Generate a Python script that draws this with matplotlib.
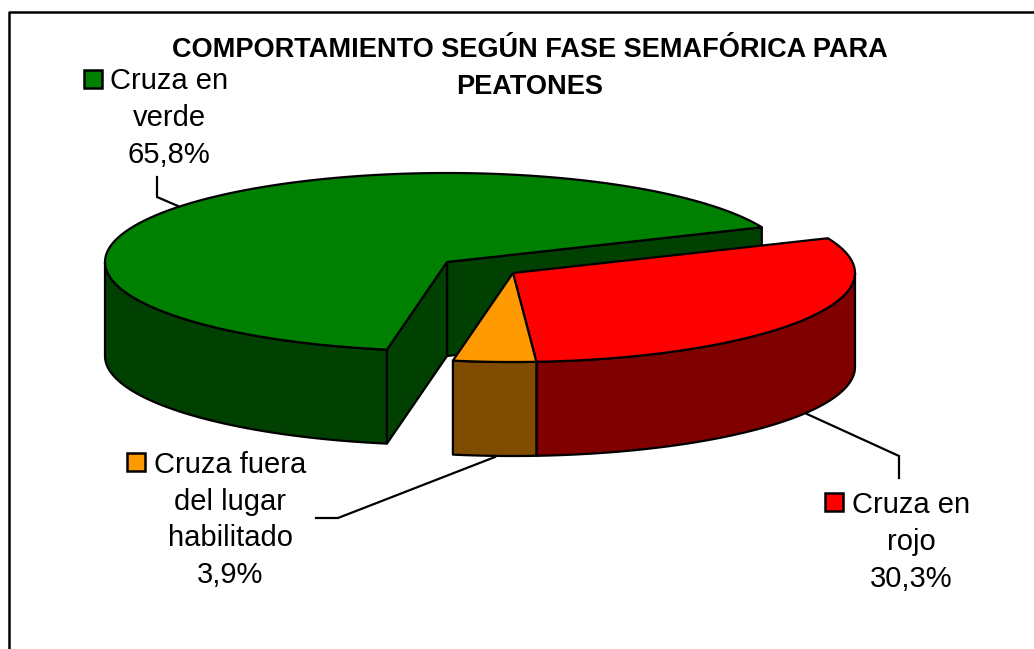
import numpy as np
import matplotlib
matplotlib.use("Agg")
import matplotlib.pyplot as plt
from matplotlib.patches import Polygon, Rectangle

plt.rcParams['font.family'] = ['Liberation Sans', 'DejaVu Sans']

title_lines = ["COMPORTAMIENTO SEGÚN FASE SEMAFÓRICA PARA", "PEATONES"]
labels = ["Cruza en\nverde\n65,8%", "Cruza en\nrojo\n30,3%", "Cruza fuera\ndel lugar\nhabilitado\n3,9%"]
values = [65.8, 30.3, 3.9]
colors = ["#008000", "#FF0000", "#FF9900"]
dark_colors = ["#004000", "#800000", "#804C00"]

# pie geometry in pixels
start_angle = 23.0
rx = 342
ry = 89
depth = 94
centers = [(447, 262), (513, 273), (513, 273)]

fig = plt.figure(figsize=(10.34, 6.49), dpi=100)
ax = fig.add_axes([0, 0, 1, 1])
ax.set_xlim(0, 1034)
ax.set_ylim(649, 0)
ax.axis("off")

lw = 1.6


def rim(c, a, b):
    t = np.radians(np.linspace(a, b, 120))
    return np.column_stack([c[0] + rx * np.cos(t), c[1] - ry * np.sin(t)])


def add_poly(pts, color, z):
    ax.add_patch(Polygon(pts, closed=True, facecolor=color, edgecolor="black",
                         linewidth=lw, joinstyle="round", zorder=z))


# angles: green runs counter clockwise from start, red and orange clockwise
sweeps = [v / sum(values) * 360 for v in values]
spans = [
    (start_angle, start_angle + sweeps[0]),
    (start_angle, start_angle - sweeps[1]),
    (start_angle - sweeps[1], start_angle - sweeps[1] - sweeps[2]),
]

# green
c = centers[0]
a, b = spans[0]
for ang in (a, b):
    p = rim(c, ang, ang)[0]
    add_poly([c, p, (p[0], p[1] + depth), (c[0], c[1] + depth)], dark_colors[0], 2)
arc = rim(c, 180, b)
add_poly(np.vstack([arc, (arc + [0, depth])[::-1]]), dark_colors[0], 2)
add_poly(np.vstack([[c], rim(c, a, b)]), colors[0], 3)

# red and orange, drawn over green
for i in (1, 2):
    c = centers[i]
    a, b = spans[i]
    side_a = max(min(a, 0), b)
    arc = rim(c, side_a, b)
    add_poly(np.vstack([arc, (arc + [0, depth])[::-1]]), dark_colors[i], 4)
    add_poly(np.vstack([[c], rim(c, a, b)]), colors[i], 5)

# title lines as separate texts so the first one stays clear of the green label
for txt, y in zip(title_lines, [50, 87]):
    ax.text(530, y, txt, ha="center", va="center", fontsize=19.5, fontweight="bold", color="black")

label_pos = [(169, 118), (911, 542), (230, 520)]
marker_pos = [(84, 70), (825, 493), (127, 453)]
for txt, pos, mk, col in zip(labels, label_pos, marker_pos, colors):
    ax.text(pos[0], pos[1], txt, ha="center", va="center", fontsize=21, linespacing=1.39, color="black")
    ax.add_patch(Rectangle(mk, 18, 18, facecolor=col, edgecolor="black", linewidth=1.8, zorder=6))

leaders = [
    ([157, 157, 178], [177, 197, 206]),
    ([899, 899, 807], [478, 456, 414]),
    ([316, 338, 495], [518, 518, 457]),
]
for xs, ys in leaders:
    ax.plot(xs, ys, color="black", linewidth=lw, zorder=1, solid_joinstyle="miter")

# chart frame, runs off right and bottom
ax.plot([8.5, 8.5, 1034], [649, 12, 12], color="black", linewidth=1.8, zorder=1)

fig.savefig("out.png", dpi=100, facecolor="white")
